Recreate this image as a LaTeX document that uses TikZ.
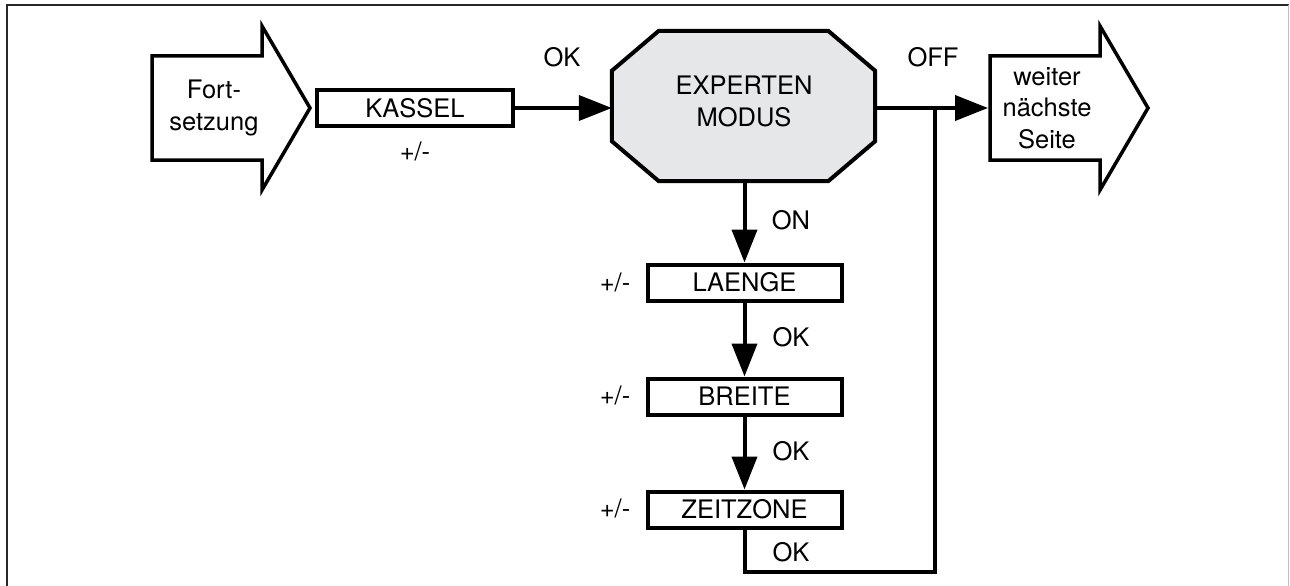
\documentclass[tikz,border=0pt]{standalone}
\usepackage{fontspec}
\setmainfont{TeX Gyre Heros}
\usetikzlibrary{arrows.meta,calc}
\definecolor{octfill}{RGB}{230,231,232}
\definecolor{framec}{RGB}{40,40,40}
\begin{document}
\begin{tikzpicture}[x=1pt,y=-1pt,
  every node/.style={font=\fontsize{25.5}{31.5}\selectfont},
  txt/.style={inner sep=0pt, align=center},
  box/.style={draw, line width=4pt, minimum width=194pt, minimum height=36pt, inner sep=0pt, fill=white},
  conn/.style={line width=4pt, -{Triangle[length=33pt,width=25pt]}},
  plain/.style={line width=4pt, line join=miter},
  bigarrow/.style={draw, line width=3.5pt, line join=miter, fill=white},
  octo/.style={draw, line width=4pt, line join=miter, fill=octfill}]
\useasboundingbox (0,0) rectangle (1290,586);
% frame
\draw[framec, line width=2.5pt] (7,586) -- (7,5) -- (1289,5);
\draw[black!25, line width=1pt] (1288.5,5) -- (1288.5,586);

% Fortsetzung arrow
\draw[bigarrow] (152,56) -- (262,56) -- (262,26) -- (310,108) -- (262,190) -- (262,160) -- (152,160) -- cycle;
\node[txt] (fort) at (214,108) {Fort-\\setzung};

% KASSEL
\node[box, minimum width=196pt] (kassel) at (415,108) {KASSEL};
\node[txt] (kpm) at (415,151) {+/-};

% Expertenmodus octagon
\node[minimum width=263pt, minimum height=150pt, inner sep=0pt] (exp) at (743.5,106) {};
\draw[octo] ($(exp.north west)+(47,0)$) -- ($(exp.north east)+(-47,0)$)
  -- ($(exp.north east)+(0,40)$) -- ($(exp.south east)+(0,-40)$)
  -- ($(exp.south east)+(-47,0)$) -- ($(exp.south west)+(47,0)$)
  -- ($(exp.south west)+(0,-40)$) -- ($(exp.north west)+(0,40)$) -- cycle;
\node[txt] (expt) at (744,101.5) {EXPERTEN\\MODUS};

% weiter arrow
\draw[bigarrow] (990,56) -- (1100,56) -- (1100,26) -- (1148,108) -- (1100,190) -- (1100,160) -- (990,160) -- cycle;
\node[txt] (weiter) at (1047,108) {weiter\\nächste\\Seite};
\coordinate (nextL) at (988,108);

% labels on top connectors
\node[txt] (ok0) at (562,57) {OK};
\node[txt] (off) at (933,57) {OFF};

% connectors top
\draw[conn] (kassel.east) -- (kassel.east -| exp.west);
\coordinate (j) at (935,108);
\draw[plain] (kassel.east -| exp.east) -- (j);
\draw[conn] (j) -- (nextL);

% vertical chain
\node[box] (laenge) at (744.5,282.5) {LAENGE};
\node[box] (breite) at (744.5,396.5) {BREITE};
\node[box] (zeit) at (744.5,509.5) {ZEITZONE};
\node[txt] (pm1) at (615,282) {+/-};
\node[txt] (pm2) at (615,395) {+/-};
\node[txt] (pm3) at (615,508) {+/-};

\draw[conn] (exp.south -| laenge.north) -- (laenge.north);
\draw[conn] (laenge.south) -- (breite.north);
\draw[conn] (breite.south) -- (zeit.north);
\node[txt] (on) at (791,220) {ON};
\node[txt] (ok1) at (791,337) {OK};
\node[txt] (ok2) at (791,451) {OK};
\node[txt] (ok3) at (791,552) {OK};

% return line
\coordinate (r) at (935,572);
\draw[plain] (zeit.south) |- (r) -- (j);
\end{tikzpicture}
\end{document}
